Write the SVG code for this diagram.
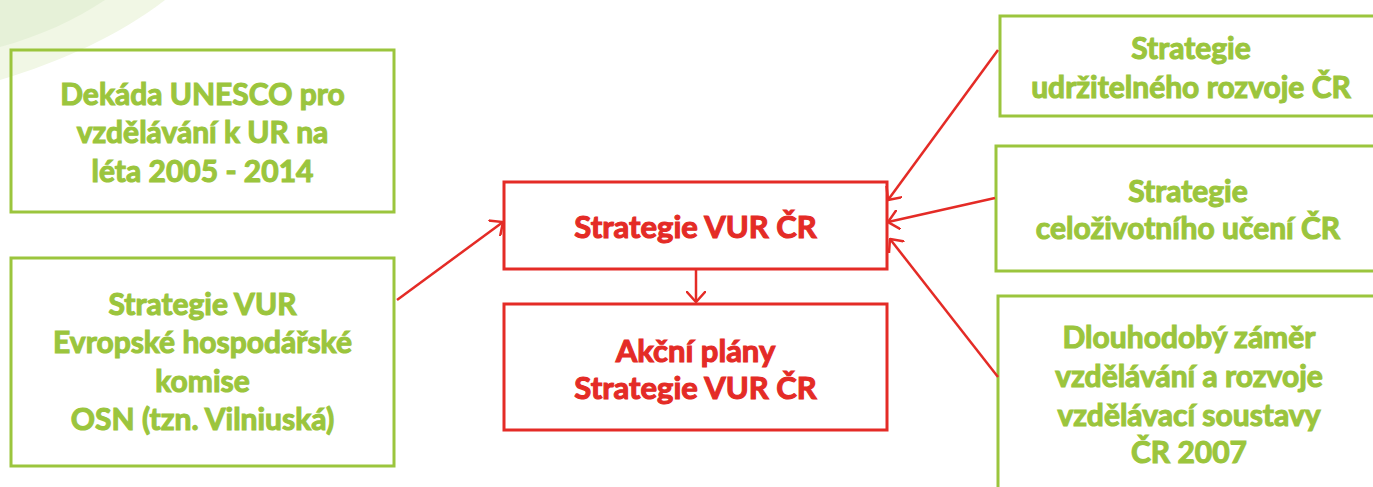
<svg xmlns="http://www.w3.org/2000/svg" width="1373" height="487" viewBox="0 0 1373 487">
<style>
.g{fill:none;stroke:#9bc53d;stroke-width:3}
.r{fill:none;stroke:#e42b26;stroke-width:3}
.gt{fill:#9bc53d;stroke:#9bc53d;stroke-width:1.1;font-family:Lato,"Open Sans",sans-serif;font-weight:bold;font-size:30px;text-anchor:middle}
.rt{fill:#e42b26;stroke:#e42b26;stroke-width:1.1;font-family:Lato,"Open Sans",sans-serif;font-weight:bold;font-size:31px;text-anchor:middle}
.c{fill:none;stroke:#e42b26;stroke-width:2.5;marker-end:url(#ah)}
</style>
<defs>
<marker id="ah" viewBox="0 0 12 20" refX="11" refY="10" markerWidth="12" markerHeight="20" markerUnits="userSpaceOnUse" orient="auto">
<path d="M0,0 L11,10 L0,20" fill="none" stroke="#e42b26" stroke-width="2.5"/>
</marker>
</defs>
<rect width="1373" height="487" fill="#fff"/>
<path d="M0,0 L165,0 C120,35 60,62 0,80 Z" fill="#f1f7e5"/>
<path d="M0,0 L105,0 C75,20 40,36 0,47 Z" fill="#e6f1d8"/>
<g id="n-dekada">
<rect class="g" x="11" y="50" width="383" height="162"/>
<text class="gt" x="202.5" y="105">Dekáda UNESCO pro</text>
<text class="gt" x="202.5" y="143">vzdělávání k UR na</text>
<text class="gt" x="202.5" y="182">léta 2005 - 2014</text>
</g>
<g id="n-vilnius">
<rect class="g" x="11" y="258" width="383" height="208"/>
<text class="gt" x="202.5" y="315">Strategie VUR</text>
<text class="gt" x="202.5" y="353">Evropské hospodářské</text>
<text class="gt" x="202.5" y="392">komise</text>
<text class="gt" x="202.5" y="430">OSN (tzn. Vilniuská)</text>
</g>
<g id="n-vur">
<rect class="r" x="504" y="182" width="383" height="87"/>
<text class="rt" x="695.5" y="238">Strategie VUR ČR</text>
</g>
<g id="n-akcni">
<rect class="r" x="504" y="304" width="383" height="126"/>
<text class="rt" x="695.5" y="362">Akční plány</text>
<text class="rt" x="695.5" y="399">Strategie VUR ČR</text>
</g>
<g id="n-sur">
<rect class="g" x="1000" y="16" width="380" height="100"/>
<text class="gt" x="1191" y="59">Strategie</text>
<text class="gt" x="1191" y="98">udržitelného rozvoje ČR</text>
</g>
<g id="n-cu">
<rect class="g" x="996" y="146" width="384" height="125"/>
<text class="gt" x="1188" y="202">Strategie</text>
<text class="gt" x="1188" y="239">celoživotního učení ČR</text>
</g>
<g id="n-dz">
<rect class="g" x="998" y="296" width="382" height="200"/>
<text class="gt" x="1189" y="348">Dlouhodobý záměr</text>
<text class="gt" x="1189" y="387">vzdělávání a rozvoje</text>
<text class="gt" x="1189" y="426">vzdělávací soustavy</text>
<text class="gt" x="1189" y="463">ČR 2007</text>
</g>
<g id="connectors">
<line class="c" x1="397" y1="300" x2="503" y2="222"/>
<line class="c" x1="696" y1="270" x2="696" y2="302"/>
<line class="c" x1="998" y1="50" x2="888" y2="200"/>
<line class="c" x1="995" y1="198" x2="888" y2="222"/>
<line class="c" x1="998" y1="377" x2="890" y2="239"/>
</g>
</svg>
